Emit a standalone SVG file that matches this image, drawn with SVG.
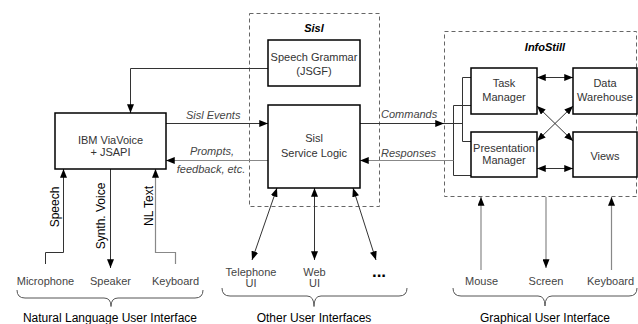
<svg xmlns="http://www.w3.org/2000/svg" width="638" height="324" viewBox="0 0 638 324">
  <style>
    text { font-family: "Liberation Sans", Arial, Helvetica, sans-serif; font-size: 11px; fill: #333; }
    .box { fill: #fff; stroke: #000; stroke-width: 1.5; }
    .group { fill: none; stroke: #666; stroke-width: 1; stroke-dasharray: 4 3; }
    .c { fill: none; stroke: #333; stroke-width: 1; }
    .g { fill: none; stroke: #888; stroke-width: 1.2; }
    .brace { fill: none; stroke: #555; stroke-width: 1; }
    .mid { text-anchor: middle; }
    .lbl { font-style: italic; fill: #444; }
    .title { font-style: italic; font-weight: bold; fill: #000; text-anchor: middle; }
    .side { font-size: 12px; fill: #000; text-anchor: middle; }
    .caption { font-size: 12px; fill: #000; text-anchor: middle; }
    .dev { fill: #444; text-anchor: middle; }
  </style>
  <defs>
    <marker id="arr" viewBox="0 0 10 8" refX="10" refY="4" markerWidth="9" markerHeight="7" markerUnits="userSpaceOnUse" orient="auto-start-reverse">
      <path d="M0,0 L10,4 L0,8 z" fill="#000"/>
    </marker>
  </defs>

  <!-- subsystem frames -->
  <g id="sisl">
    <rect class="group" x="249.5" y="13.5" width="130" height="193"/>
    <text class="title" x="314" y="32">Sisl</text>
  </g>
  <g id="infostill">
    <rect class="group" x="444.5" y="31.5" width="192" height="165"/>
    <text class="title" x="545" y="51">InfoStill</text>
  </g>

  <!-- connectors -->
  <g id="connectors">
    <path class="c" d="M268,68.5 H130.5 V113" marker-end="url(#arr)"/>
    <path class="c" d="M166,123.5 H268" marker-end="url(#arr)"/>
    <path class="g" d="M268,160.5 H166" marker-end="url(#arr)"/>
    <path class="c" d="M45.5,264 V252.5 H63.5 V169" marker-end="url(#arr)"/>
    <path class="c" d="M110.5,169 V268" marker-end="url(#arr)"/>
    <path class="g" d="M175.5,264 V252.5 H155.5 V169" marker-end="url(#arr)"/>

    <path class="c" d="M360,123.5 H444" marker-end="url(#arr)"/>
    <path class="c" d="M444,123.5 H462.5"/>
    <path class="c" d="M471,77.5 H462.5 V141.5 H471"/>
    <path class="c" d="M471,105.5 H453.5 V175.5 H471"/>
    <path class="g" d="M453.5,160.5 H360" marker-end="url(#arr)"/>

    <path class="c" d="M537,77.5 H573" marker-start="url(#arr)" marker-end="url(#arr)"/>
    <path class="c" d="M537,168.5 H573" marker-start="url(#arr)" marker-end="url(#arr)"/>
    <path class="c" d="M537,106 L573,141" marker-start="url(#arr)" marker-end="url(#arr)"/>
    <path class="c" d="M573,106 L537,141" marker-start="url(#arr)" marker-end="url(#arr)"/>

    <path class="c" d="M277,188 L252,260" marker-start="url(#arr)" marker-end="url(#arr)"/>
    <path class="c" d="M314.5,188 V260" marker-start="url(#arr)" marker-end="url(#arr)"/>
    <path class="c" d="M353,188 L376,260" marker-start="url(#arr)" marker-end="url(#arr)"/>

    <path class="g" d="M481,270 V197" marker-end="url(#arr)"/>
    <path class="g" d="M546,197 V268" marker-end="url(#arr)"/>
    <path class="g" d="M611.5,270 V197" marker-end="url(#arr)"/>

    <text class="lbl" x="186" y="119">Sisl  Events</text>
    <text class="lbl" x="212" y="155" text-anchor="middle">Prompts,</text>
    <text class="lbl" x="211" y="173" text-anchor="middle">feedback,  etc.</text>
    <text class="lbl" x="381" y="118">Commands</text>
    <text class="lbl" x="381" y="157">Responses</text>

    <text class="side" transform="translate(58.5,207) rotate(-90)">Speech</text>
    <text class="side" transform="translate(105,216) rotate(-90)">Synth. Voice</text>
    <text class="side" transform="translate(152.5,206) rotate(-90)">NL Text</text>
  </g>

  <!-- nodes -->
  <g id="viavoice">
    <rect class="box" x="55" y="113" width="111" height="56"/>
    <text class="mid" x="110.5" y="144">IBM ViaVoice</text>
    <text class="mid" x="110.5" y="155.5">+ JSAPI</text>
  </g>
  <g id="grammar">
    <rect class="box" x="268" y="40" width="92" height="46"/>
    <text class="mid" x="314" y="60.5">Speech  Grammar</text>
    <text class="mid" x="314" y="74.5">(JSGF)</text>
  </g>
  <g id="service-logic">
    <rect class="box" x="268" y="105" width="92" height="83"/>
    <text class="mid" x="314" y="142">Sisl</text>
    <text class="mid" x="314" y="156.5">Service  Logic</text>
  </g>
  <g id="task-manager">
    <rect class="box" x="471" y="68" width="66" height="46"/>
    <text class="mid" x="504" y="87">Task</text>
    <text class="mid" x="504" y="100.5">Manager</text>
  </g>
  <g id="data-warehouse">
    <rect class="box" x="573" y="68" width="64" height="46"/>
    <text class="mid" x="605" y="87">Data</text>
    <text class="mid" x="605" y="100.5">Warehouse</text>
  </g>
  <g id="presentation-manager">
    <rect class="box" x="471" y="132" width="66" height="45"/>
    <text class="mid" x="504" y="151.5">Presentation</text>
    <text class="mid" x="504" y="164">Manager</text>
  </g>
  <g id="views">
    <rect class="box" x="573" y="132" width="64" height="45"/>
    <text class="mid" x="605" y="160">Views</text>
  </g>

  <!-- devices -->
  <g id="microphone"><text class="dev" x="45.5" y="285">Microphone</text></g>
  <g id="speaker"><text class="dev" x="110.5" y="285">Speaker</text></g>
  <g id="keyboard-nl"><text class="dev" x="175.5" y="285">Keyboard</text></g>
  <g id="telephone-ui">
    <text class="dev" x="251" y="275.5">Telephone</text>
    <text class="dev" x="251" y="287">UI</text>
  </g>
  <g id="web-ui">
    <text class="dev" x="314.5" y="275.5">Web</text>
    <text class="dev" x="314.5" y="287">UI</text>
  </g>
  <g id="more-ui"><text x="379" y="277" text-anchor="middle" style="font-size:17px;font-weight:bold;fill:#000">...</text></g>
  <g id="mouse"><text class="dev" x="481.5" y="285">Mouse</text></g>
  <g id="screen"><text class="dev" x="546" y="285">Screen</text></g>
  <g id="keyboard-gui"><text class="dev" x="610.5" y="285">Keyboard</text></g>

  <!-- interface braces -->
  <g id="nl-ui">
    <path class="brace" d="M17,290 Q17,298 25,298 H104 Q111,298 111,306.5 Q111,298 118,298 H195 Q203,298 203,290"/>
    <text class="caption" x="110" y="322">Natural Language User Interface</text>
  </g>
  <g id="other-ui">
    <path class="brace" d="M222,288 Q222,296 230,296 H307 Q314,296 314,306.5 Q314,296 321,296 H399 Q407,296 407,288"/>
    <text class="caption" x="314" y="322">Other User Interfaces</text>
  </g>
  <g id="gui">
    <path class="brace" d="M453,288 Q453,296 461,296 H538 Q545,296 545,306 Q545,296 552,296 H629 Q637,296 637,288"/>
    <text class="caption" x="545" y="322">Graphical User Interface</text>
  </g>
</svg>
